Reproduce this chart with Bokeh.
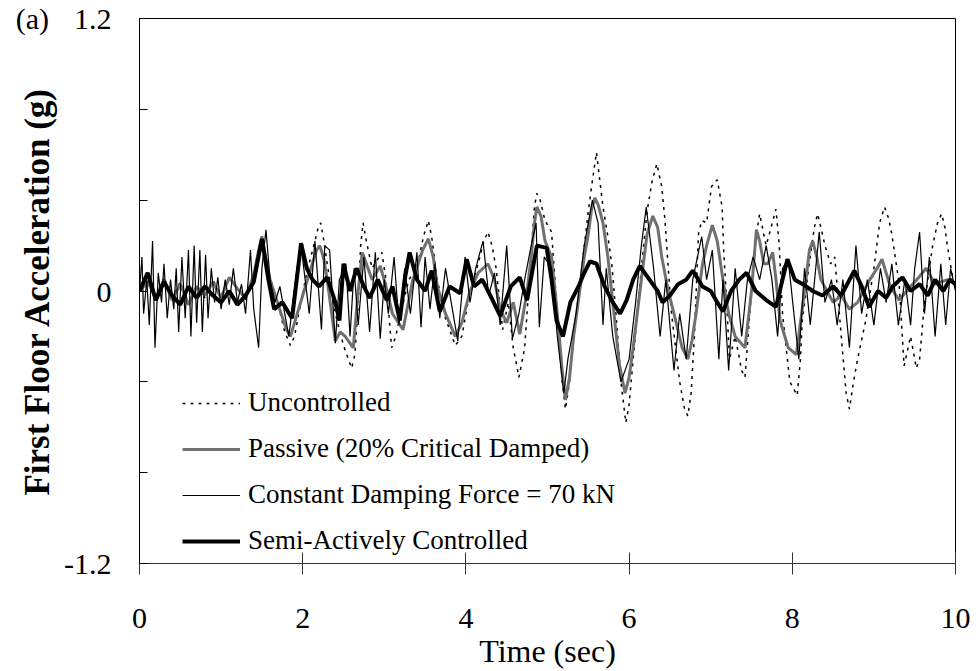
from bokeh.plotting import figure
from bokeh.models import Legend, LegendItem, FixedTicker, Range1d
from bokeh.embed import file_html
from bokeh.resources import INLINE

# ---- data (time in s, acceleration in g) ----
t_unc = [0.00, 0.10, 0.20, 0.30, 0.40, 0.50, 0.60, 0.70, 0.80, 0.90, 1.00, 1.10, 1.20, 1.30, 1.40, 1.46,
         1.50, 1.55, 1.60, 1.70, 1.78, 1.85, 1.90, 1.95, 2.05, 2.15, 2.19, 2.22, 2.26, 2.30, 2.40, 2.50,
         2.60, 2.64, 2.68, 2.71, 2.74, 2.78, 2.85, 2.92, 2.97, 3.02, 3.09, 3.14, 3.20, 3.30, 3.40, 3.48,
         3.54, 3.58, 3.65, 3.75, 3.87, 3.95, 4.05, 4.15, 4.22, 4.27, 4.32, 4.37, 4.45, 4.52, 4.58, 4.65,
         4.72, 4.80, 4.84, 4.87, 4.91, 4.97, 5.05, 5.12, 5.18, 5.22, 5.27, 5.32, 5.42, 5.50, 5.54, 5.60,
         5.64, 5.68, 5.74, 5.79, 5.85, 5.90, 5.96, 6.00, 6.05, 6.15, 6.22, 6.28, 6.34, 6.40, 6.44, 6.47,
         6.52, 6.62, 6.68, 6.72, 6.76, 6.80, 6.85, 6.89, 6.95, 7.01, 7.08, 7.14, 7.16, 7.19, 7.23, 7.30,
         7.38, 7.42, 7.50, 7.56, 7.60, 7.65, 7.68, 7.74, 7.80, 7.84, 7.88, 7.97, 8.06, 8.10, 8.12, 8.20,
         8.27, 8.31, 8.35, 8.40, 8.47, 8.52, 8.60, 8.66, 8.70, 8.75, 8.80, 8.90, 9.00, 9.07, 9.13, 9.18,
         9.22, 9.31, 9.37, 9.45, 9.52, 9.56, 9.62, 9.72, 9.78, 9.83, 9.87, 9.90, 9.96, 10.00]
a_unc = [0.00, 0.05, -0.04, 0.06, -0.03, 0.04, -0.07, 0.02, -0.03, 0.05, -0.02, 0.06, 0.01, -0.04, 0.08, 0.18,
         0.24, 0.15, 0.06, -0.06, -0.18, -0.24, -0.20, -0.10, 0.08, 0.22, 0.28, 0.30, 0.22, 0.12, -0.10, -0.24,
         -0.34, -0.28, -0.05, 0.20, 0.30, 0.22, 0.10, 0.14, 0.17, 0.05, -0.25, -0.20, -0.10, 0.05, 0.10, 0.24,
         0.31, 0.24, 0.05, -0.12, -0.24, -0.20, 0.00, 0.12, 0.22, 0.26, 0.20, 0.10, -0.17, -0.05, -0.25, -0.38,
         -0.25, 0.17, 0.37, 0.43, 0.40, 0.31, 0.26, -0.10, -0.40, -0.52, -0.40, -0.20, 0.10, 0.35, 0.46, 0.61,
         0.49, 0.37, 0.24, 0.11, -0.15, -0.40, -0.58, -0.50, -0.30, 0.10, 0.35, 0.48, 0.56, 0.46, 0.31, 0.15,
         -0.10, -0.40, -0.52, -0.55, -0.45, -0.20, 0.25, 0.31, 0.30, 0.46, 0.49, 0.37, 0.17, -0.01, -0.30, -0.20,
         -0.35, -0.38, 0.00, 0.25, 0.34, 0.25, 0.20, 0.28, 0.36, 0.20, -0.10, -0.40, -0.46, -0.30, -0.14, 0.10,
         0.28, 0.34, 0.28, 0.20, 0.12, 0.15, -0.20, -0.45, -0.52, -0.40, -0.30, -0.13, 0.10, 0.30, 0.37, 0.32,
         0.25, 0.03, -0.33, -0.20, -0.34, -0.30, -0.05, 0.20, 0.30, 0.34, 0.28, 0.20, 0.07, 0.05]

t_pas = [0.00, 0.10, 0.20, 0.30, 0.40, 0.50, 0.60, 0.70, 0.80, 0.90, 1.00, 1.10, 1.20, 1.30, 1.40, 1.46,
         1.50, 1.55, 1.60, 1.70, 1.80, 1.85, 1.95, 2.10, 2.17, 2.21, 2.26, 2.30, 2.40, 2.46, 2.52, 2.62,
         2.68, 2.73, 2.80, 2.85, 2.95, 3.02, 3.10, 3.23, 3.35, 3.47, 3.54, 3.60, 3.65, 3.75, 3.87, 3.95,
         4.05, 4.15, 4.27, 4.35, 4.42, 4.50, 4.58, 4.66, 4.75, 4.80, 4.84, 4.87, 4.92, 4.97, 5.05, 5.12,
         5.18, 5.22, 5.27, 5.32, 5.45, 5.50, 5.54, 5.58, 5.62, 5.68, 5.74, 5.80, 5.88, 5.95, 6.00, 6.05,
         6.15, 6.22, 6.29, 6.35, 6.40, 6.48, 6.55, 6.65, 6.72, 6.77, 6.82, 6.90, 6.95, 7.02, 7.08, 7.15,
         7.22, 7.30, 7.42, 7.50, 7.56, 7.60, 7.65, 7.70, 7.76, 7.80, 7.85, 7.95, 8.05, 8.15, 8.21, 8.25,
         8.30, 8.35, 8.50, 8.60, 8.70, 8.80, 8.95, 9.04, 9.10, 9.20, 9.31, 9.45, 9.55, 9.64, 9.75, 9.90,
         10.00]
a_pas = [0.00, 0.04, -0.03, 0.05, -0.04, 0.03, -0.06, 0.02, -0.02, 0.04, -0.03, 0.06, 0.01, -0.03, 0.07, 0.18,
         0.24, 0.14, 0.05, -0.06, -0.17, -0.20, -0.08, 0.10, 0.18, 0.20, 0.14, 0.05, -0.22, -0.18, -0.20, -0.25,
         0.00, 0.17, 0.10, 0.05, 0.11, 0.02, -0.10, -0.17, 0.05, 0.18, 0.23, 0.15, 0.02, -0.10, -0.20, -0.14,
         0.00, 0.08, 0.12, 0.05, -0.08, -0.14, -0.05, -0.19, 0.00, 0.15, 0.30, 0.37, 0.33, 0.22, 0.15, -0.10,
         -0.35, -0.48, -0.38, -0.20, 0.15, 0.25, 0.36, 0.41, 0.38, 0.30, 0.15, -0.05, -0.32, -0.45, -0.38, -0.25,
         0.05, 0.25, 0.33, 0.28, 0.15, 0.00, -0.10, -0.25, -0.30, -0.22, -0.10, 0.12, 0.20, 0.29, 0.22, 0.05,
         -0.10, -0.20, -0.25, 0.00, 0.27, 0.22, 0.12, 0.12, 0.17, 0.05, -0.13, -0.25, -0.28, 0.00, 0.18, 0.22,
         0.15, 0.05, -0.05, -0.02, -0.08, -0.05, 0.05, 0.10, 0.14, 0.02, -0.04, 0.02, 0.06, 0.10, 0.03, 0.05,
         0.03]

t_con = [0.00, 0.03, 0.05, 0.09, 0.12, 0.16, 0.19, 0.23, 0.27, 0.30, 0.34, 0.38, 0.42, 0.45, 0.48, 0.52,
         0.56, 0.60, 0.63, 0.67, 0.70, 0.74, 0.77, 0.81, 0.84, 0.88, 0.92, 0.96, 1.00, 1.05, 1.10, 1.15,
         1.20, 1.25, 1.30, 1.36, 1.40, 1.46, 1.50, 1.55, 1.60, 1.66, 1.72, 1.78, 1.83, 1.88, 1.93, 1.98,
         2.03, 2.08, 2.15, 2.23, 2.27, 2.33, 2.40, 2.45, 2.53, 2.58, 2.63, 2.68, 2.75, 2.82, 2.89, 2.95,
         3.00, 3.05, 3.12, 3.18, 3.25, 3.32, 3.40, 3.45, 3.50, 3.56, 3.62, 3.68, 3.75, 3.82, 3.90, 3.99,
         4.05, 4.12, 4.21, 4.28, 4.35, 4.42, 4.50, 4.57, 4.65, 4.72, 4.80, 4.86, 4.90, 4.96, 5.05, 5.12,
         5.20, 5.25, 5.35, 5.45, 5.55, 5.62, 5.68, 5.72, 5.80, 5.90, 6.00, 6.08, 6.15, 6.21, 6.30, 6.38,
         6.45, 6.55, 6.62, 6.70, 6.78, 6.89, 6.95, 7.02, 7.10, 7.15, 7.22, 7.30, 7.38, 7.45, 7.52, 7.60,
         7.68, 7.75, 7.82, 7.88, 7.95, 8.02, 8.08, 8.15, 8.22, 8.33, 8.40, 8.48, 8.55, 8.62, 8.70, 8.78,
         8.85, 8.92, 9.00, 9.08, 9.15, 9.22, 9.30, 9.38, 9.45, 9.50, 9.56, 9.62, 9.68, 9.75, 9.82, 9.88,
         9.94, 10.00]
a_con = [0.00, 0.15, -0.10, 0.05, -0.15, 0.22, -0.25, 0.08, -0.05, 0.12, -0.12, 0.05, -0.08, 0.10, -0.18, 0.15,
         -0.12, 0.18, -0.20, 0.20, -0.14, 0.18, -0.18, 0.16, -0.12, 0.10, -0.05, 0.06, -0.08, 0.05, -0.06, 0.10,
         -0.05, 0.03, -0.10, 0.18, -0.08, -0.25, 0.10, 0.27, 0.05, -0.05, 0.02, -0.10, -0.20, -0.05, 0.10, 0.20,
         0.05, -0.10, 0.22, -0.17, 0.20, 0.18, -0.23, 0.05, 0.12, -0.20, 0.10, -0.15, 0.15, -0.18, 0.17, -0.21,
         0.05, -0.10, 0.15, -0.15, 0.10, -0.10, 0.17, -0.16, 0.15, -0.08, 0.12, -0.12, 0.10, -0.05, -0.22, 0.15,
         -0.05, 0.10, 0.22, -0.02, 0.08, -0.15, 0.20, -0.21, -0.10, 0.05, 0.20, 0.30, -0.16, 0.15, 0.10, -0.20,
         -0.45, -0.30, -0.10, 0.20, 0.40, 0.30, -0.15, 0.10, -0.20, -0.40, -0.30, -0.05, 0.20, 0.37, 0.10, -0.20,
         0.05, -0.35, -0.10, -0.30, 0.05, 0.24, 0.05, 0.18, -0.30, 0.05, -0.35, 0.10, -0.20, 0.05, 0.15, 0.05,
         0.20, 0.05, -0.20, 0.10, 0.14, -0.10, -0.30, 0.10, -0.15, 0.26, -0.05, 0.05, -0.15, 0.05, -0.25, 0.20,
         -0.10, 0.05, -0.15, 0.10, -0.05, 0.12, -0.15, 0.05, -0.15, 0.10, 0.26, -0.10, 0.15, -0.20, 0.12, -0.15,
         0.10, 0.00]

t_semi = [0.00, 0.10, 0.20, 0.30, 0.40, 0.50, 0.60, 0.70, 0.80, 0.90, 1.00, 1.10, 1.20, 1.30, 1.40, 1.50,
          1.58, 1.65, 1.75, 1.87, 1.98, 2.05, 2.12, 2.20, 2.30, 2.40, 2.45, 2.50, 2.58, 2.66, 2.75, 2.82,
          2.92, 3.03, 3.10, 3.19, 3.25, 3.31, 3.40, 3.50, 3.58, 3.68, 3.80, 3.93, 4.01, 4.10, 4.20, 4.30,
          4.42, 4.55, 4.66, 4.75, 4.87, 4.99, 5.05, 5.11, 5.19, 5.28, 5.38, 5.45, 5.52, 5.60, 5.70, 5.80,
          5.89, 5.97, 6.05, 6.13, 6.25, 6.35, 6.41, 6.50, 6.60, 6.70, 6.78, 6.90, 7.00, 7.08, 7.15, 7.25,
          7.35, 7.44, 7.55, 7.68, 7.80, 7.88, 7.94, 8.03, 8.13, 8.25, 8.37, 8.50, 8.60, 8.76, 8.85, 8.94,
          9.05, 9.15, 9.23, 9.35, 9.45, 9.56, 9.66, 9.75, 9.85, 9.93, 10.00]
a_semi = [0.00, 0.08, -0.04, 0.04, -0.02, -0.06, 0.02, -0.03, 0.02, -0.02, -0.05, 0.00, -0.06, -0.02, 0.04, 0.23,
          0.05, -0.08, -0.05, -0.12, 0.21, 0.10, 0.05, 0.02, 0.06, -0.05, -0.13, 0.12, 0.00, 0.10, 0.02, -0.03,
          0.05, -0.04, 0.02, -0.13, 0.05, 0.17, 0.05, 0.00, 0.09, -0.09, 0.02, -0.01, 0.14, 0.02, 0.05, -0.02,
          -0.11, 0.02, 0.06, -0.04, 0.20, 0.19, 0.05, -0.13, -0.20, -0.05, 0.02, 0.08, 0.13, 0.12, 0.02, -0.05,
          -0.10, -0.04, 0.05, 0.11, 0.05, 0.00, -0.05, -0.02, 0.03, 0.05, 0.09, 0.02, 0.00, -0.05, -0.09, 0.00,
          0.05, 0.08, 0.00, -0.04, -0.07, 0.05, 0.14, 0.05, 0.03, 0.00, -0.02, 0.02, -0.02, 0.09, 0.02, -0.07,
          0.00, -0.03, 0.02, 0.06, 0.00, 0.03, -0.02, 0.05, 0.00, 0.05, 0.03]

x_ticks = [0, 2, 4, 6, 8, 10]
y_ticks = [-1.2, -0.8, -0.4, 0, 0.4, 0.8, 1.2]
# the panel tag "(a)" sits on the same line as the top tick label in the reference
y_tick_labels = {-1.2: "-1.2", -0.8: "", -0.4: "", 0: "0", 0.4: "", 0.8: "",
                 1.2: "(a)\u2002\u00a0\u200a" + "1.2"}

FONT = "Liberation Serif"

p = figure(width=970, height=671, output_backend="svg", toolbar_location=None,
           x_range=Range1d(0, 10), y_range=Range1d(-1.2, 1.2),
           min_border_left=139, min_border_right=15, min_border_top=18, min_border_bottom=108)
p.title.visible = False
p.grid.visible = False
p.outline_line_color = "black"
p.outline_line_width = 1
p.background_fill_color = "white"
p.border_fill_color = "white"

r_unc = p.line(t_unc, a_unc, line_color="black", line_width=1.5, line_dash="3 5")
r_pas = p.line(t_pas, a_pas, line_color="#707070", line_width=3)
r_con = p.line(t_con, a_con, line_color="black", line_width=1.2)
r_semi = p.line(t_semi, a_semi, line_color="black", line_width=4)

# axes
xa = p.xaxis[0]
xa.ticker = FixedTicker(ticks=x_ticks)
xa.major_tick_in = 11
xa.major_tick_out = 11
xa.minor_tick_line_color = None
xa.axis_line_color = "#333333"
xa.major_tick_line_color = "#333333"
xa.major_label_text_font = FONT
xa.major_label_text_font_size = "30px"
xa.major_label_text_color = "black"
xa.major_label_standoff = 34
xa.axis_label = "Time (sec)"
xa.axis_label_text_font = FONT
xa.axis_label_text_font_size = "32px"
xa.axis_label_text_font_style = "normal"
xa.axis_label_text_color = "black"
xa.axis_label_standoff = 2

ya = p.yaxis[0]
ya.ticker = FixedTicker(ticks=y_ticks)
ya.major_label_overrides = y_tick_labels
ya.major_tick_in = 8
ya.major_tick_out = 0
ya.minor_tick_line_color = None
ya.axis_line_color = "black"
ya.major_tick_line_color = "black"
ya.major_label_text_font = FONT
ya.major_label_text_font_size = "30px"
ya.major_label_text_color = "black"
ya.major_label_standoff = 28
ya.axis_label = "First Floor Acceleration (g)"
ya.axis_label_text_font = FONT
ya.axis_label_text_font_size = "35px"
ya.axis_label_text_font_style = "bold"
ya.axis_label_text_color = "black"
ya.axis_label_standoff = -44

legend = Legend(items=[LegendItem(label="Uncontrolled", renderers=[r_unc]),
                       LegendItem(label="Passive (20% Critical Damped)", renderers=[r_pas]),
                       LegendItem(label="Constant Damping Force = 70 kN", renderers=[r_con]),
                       LegendItem(label="Semi-Actively Controlled", renderers=[r_semi])],
                location=(43, 7), border_line_color=None, background_fill_alpha=0,
                label_text_font=FONT, label_text_font_size="27px", label_text_color="black",
                glyph_width=58, glyph_height=30, label_height=30, spacing=15,
                padding=0, margin=0, label_standoff=8)
p.add_layout(legend)

open("out.html", "w").write(file_html(p, INLINE))
